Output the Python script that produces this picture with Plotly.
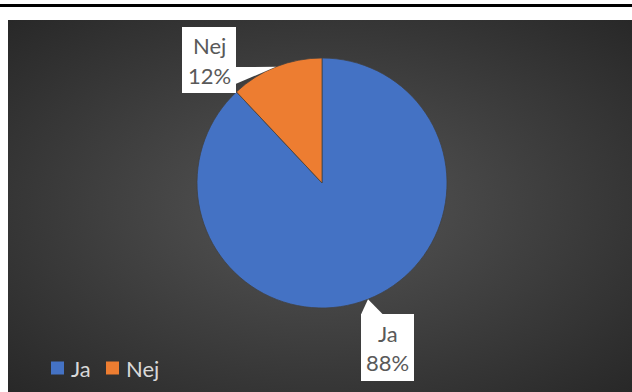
import base64
import math
import plotly.graph_objects as go

# --- data ---
labels = ["Ja", "Nej"]
values = [88, 12]
colors = ["#4472C4", "#ED7D31"]

W, H = 632, 392
FONT = "Lato"

# pie geometry in pixels (center and radius)
cx, cy, r = 322, 183, 125


def px(x):
    return x / W


def py(y):
    return 1 - y / H


# radial gradient backdrop as an inline SVG
svg = (
    "<svg xmlns='http://www.w3.org/2000/svg' width='624' height='372'>"
    "<defs><radialGradient id='g' cx='50%' cy='50%' r='72%'>"
    "<stop offset='0' stop-color='#565656'/>"
    "<stop offset='1' stop-color='#272727'/>"
    "</radialGradient></defs>"
    "<rect width='100%' height='100%' fill='url(#g)'/></svg>"
)
bg_src = "data:image/svg+xml;base64," + base64.b64encode(svg.encode()).decode()

fig = go.Figure()
fig.add_trace(
    go.Pie(
        labels=labels,
        values=values,
        sort=False,
        direction="clockwise",
        rotation=0,
        marker=dict(colors=colors, line=dict(color="#404040", width=0.75)),
        textinfo="none",
        hoverinfo="label+percent",
        showlegend=False,
        domain=dict(x=[px(cx - r), px(cx + r)], y=[py(cy + r), py(cy - r)]),
    )
)

# data-label callouts: pointer tips sit on the rim at each slice's mid-angle
total = sum(values)
pct = [round(100 * v / total) for v in values]
start = 0.0
tips = []
for v in values:
    mid = start + v / total * 360 / 2
    a = math.radians(mid)
    tips.append((cx + r * math.sin(a), cy - r * math.cos(a)))
    start += v / total * 360

boxes = {
    "Ja": dict(x0=361, y0=314, x1=414, y1=381),
    "Nej": dict(x0=182, y0=27, x1=236, y1=93),
}
pointers = {
    "Ja": [(361, 314.5), (383, 314.5)],
    "Nej": [(235.5, 67), (235.5, 84)],
}

shapes = [
    # rule along the top
    dict(type="rect", xref="paper", yref="paper", x0=0, x1=1,
         y0=py(7), y1=py(4), fillcolor="black", line=dict(width=0), layer="above"),
]
annotations = []
for lab, p, tip in zip(labels, pct, tips):
    b = boxes[lab]
    shapes.append(dict(type="rect", xref="paper", yref="paper",
                       x0=px(b["x0"]), x1=px(b["x1"]), y0=py(b["y1"]), y1=py(b["y0"]),
                       fillcolor="white", line=dict(width=0), layer="above"))
    (ax, ay), (bx, by) = pointers[lab]
    path = "M{},{} L{},{} L{},{} Z".format(px(ax), py(ay), px(tip[0]), py(tip[1]), px(bx), py(by))
    shapes.append(dict(type="path", xref="paper", yref="paper", path=path,
                       fillcolor="white", line=dict(width=0), layer="above"))
    xc = px((b["x0"] + b["x1"]) / 2)
    for text, dy in ((lab, 19), (f"{p}%", 48)):
        annotations.append(dict(
            xref="paper", yref="paper", x=xc, y=py(b["y0"] + dy),
            text=text, showarrow=False, align="center",
            font=dict(family=FONT, size=22, color="#595959"),
            xanchor="center", yanchor="middle",
        ))

# legend row along the bottom left
leg_x = [51, 106]
leg_y = 368
for lab, col, lx in zip(labels, colors, leg_x):
    shapes.append(dict(type="rect", xref="paper", yref="paper",
                       x0=px(lx), x1=px(lx + 13), y0=py(leg_y + 6.5), y1=py(leg_y - 6.5),
                       fillcolor=col, line=dict(width=0)))
    annotations.append(dict(
        xref="paper", yref="paper", x=px(lx + 18), y=py(leg_y),
        text=lab, showarrow=False, xanchor="left", yanchor="middle",
        font=dict(family=FONT, size=22, color="#d9d9d9"),
    ))

fig.update_layout(
    width=W, height=H,
    margin=dict(l=0, r=0, t=0, b=0),
    paper_bgcolor="white",
    images=[dict(source=bg_src, xref="paper", yref="paper",
                 x=px(8), y=py(20), sizex=px(W - 8), sizey=(H - 20) / H,
                 xanchor="left", yanchor="top", sizing="stretch", layer="below")],
    shapes=shapes,
    annotations=annotations,
    showlegend=False,
)

fig.write_html("out.html")
